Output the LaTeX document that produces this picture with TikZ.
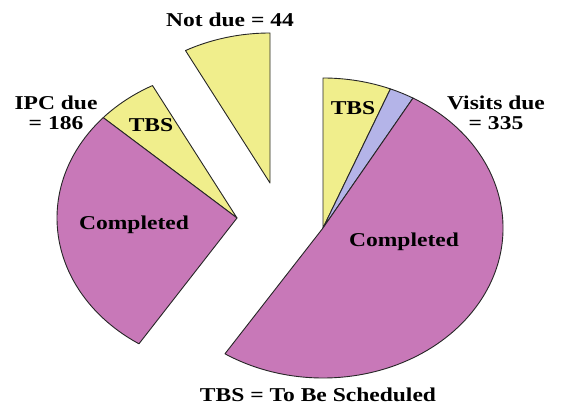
\documentclass[tikz,border=0pt]{standalone}
\usepackage{fontspec}
\setmainfont[FakeStretch=1.2]{Liberation Serif}
\usepackage{xcolor}
\usetikzlibrary{positioning, calc}
\definecolor{pieyellow}{RGB}{240,238,140}
\definecolor{pieblue}{RGB}{180,180,232}
\definecolor{piepink}{RGB}{200,120,184}
\tikzset{
  slice/.style = {draw=black!85, line width=0.9pt, line join=round},
  lbl/.style   = {font=\fontsize{19.6}{20}\selectfont\bfseries, align=center, inner sep=0pt},
}
% one wedge of the pie: apex, start angle, end angle, colour
\newcommand{\pieslice}[4]{%
  \filldraw[slice, fill=#4] (#1) -- +(#2:180pt and 150pt)
    arc[start angle=#2, end angle=#3, x radius=180pt, y radius=150pt] -- cycle;}

\begin{document}
\begin{tikzpicture}[x=1pt, y=1pt]
  \useasboundingbox (0,0) rectangle (561,406);

  \coordinate (visits) at (323,178);
  \coordinate (ipc)    at (237,188);
  \coordinate (notdue) at (270,223);

  % visits due
  \pieslice{visits}{90}{68}{pieyellow}
  \pieslice{visits}{68}{60}{pieblue}
  \pieslice{visits}{60}{-123}{piepink}
  % IPC due
  \pieslice{ipc}{118}{138}{pieyellow}
  \pieslice{ipc}{138}{237}{piepink}
  % not due
  \pieslice{notdue}{90}{118}{pieyellow}

  \node[lbl] (notduelbl) at (230,386) {Not due = 44};
  \node[lbl] (ipclbl)    at (56,293)  {IPC due\\= 186};
  \node[lbl] (ipctbs)    at (151,281) {TBS};
  \node[lbl] (ipcdone)   at (134,181) {Completed};
  \node[lbl] (vistbs)    at (353,298) {TBS};
  \node[lbl] (vislbl)    at (496,293) {Visits due\\= 335};
  \node[lbl] (visdone)   at (404,164) {Completed};
  \node[lbl] (key)       at (318,11)  {TBS = To Be Scheduled};
\end{tikzpicture}
\end{document}
